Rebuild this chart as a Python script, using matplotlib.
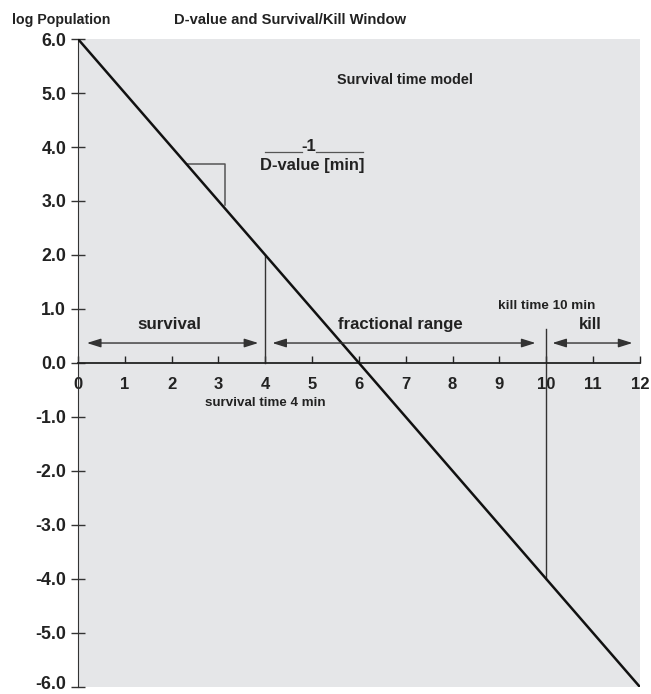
import numpy as np
import matplotlib.pyplot as plt
import matplotlib.transforms as mtransforms

plt.rcParams["font.family"] = ["Liberation Sans", "DejaVu Sans"]
plt.rcParams["font.weight"] = "bold"

# survival curve: log population vs time
time_min = [0, 12]
log_pop = [6.0, -6.0]

x_ticks = list(range(0, 13))
y_ticks = [6.0, 5.0, 4.0, 3.0, 2.0, 1.0, 0.0, -1.0, -2.0, -3.0, -4.0, -5.0, -6.0]

survival_time = 4
kill_time = 10

TXT = "#222222"

fig = plt.figure(figsize=(6.51, 6.94), dpi=100)
ax = fig.add_axes([0.1198, 0.0101, 0.8632, 0.9337])
ax.set_facecolor("#e5e6e8")
ax.set_xlim(0, 12)
ax.set_ylim(-6, 6)

ax.plot(time_min, log_pop, color="#111111", lw=1.8, solid_capstyle="butt", zorder=3)

# spines
for s in ["top", "right"]:
    ax.spines[s].set_visible(False)
ax.spines["bottom"].set_position(("data", 0))
ax.spines["left"].set_color("#333333")
ax.spines["bottom"].set_color("#222222")
ax.spines["bottom"].set_linewidth(1.3)

ax.set_xticks(x_ticks)
ax.set_xticklabels([str(t) for t in x_ticks], fontsize=12, fontweight="bold", color=TXT)
ax.set_yticks(y_ticks)
ax.set_yticklabels([f"{v:.1f}" for v in y_ticks], fontsize=12.8, fontweight="bold", color=TXT)
ax.tick_params(axis="x", direction="in", length=5, width=1, pad=10, color="#222222")
ax.tick_params(axis="y", direction="inout", length=10, width=1, pad=3.5, color="#333333")

# keep the bottom label inside the canvas
last = ax.get_yticklabels()[-1]
last.set_transform(last.get_transform() + mtransforms.ScaledTranslation(0, 3 / 72, fig.dpi_scale_trans))

# slope triangle
ax.plot([2.32, 3.14, 3.14], [3.68, 3.68, 2.93], color="#555555", lw=1.1)
ax.plot([4.0, 4.79], [3.9, 3.9], color="#555555", lw=0.9)
ax.plot([5.09, 6.08], [3.9, 3.9], color="#555555", lw=0.9)
ax.text(4.92, 3.87, "-1", ha="center", va="bottom", fontsize=12, fontweight="bold", color=TXT)
ax.text(5.01, 3.66, "D-value [min]", ha="center", va="center", fontsize=11.9, fontweight="bold", color=TXT)

# survival / kill markers
slope = (log_pop[1] - log_pop[0]) / (time_min[1] - time_min[0])
y_at_surv = log_pop[0] + slope * survival_time
y_at_kill = log_pop[0] + slope * kill_time
ax.plot([survival_time, survival_time], [0, y_at_surv], color="#333333", lw=1)
ax.plot([kill_time, kill_time], [y_at_kill, 0.63], color="#333333", lw=1)

arrow_kw = dict(arrowstyle="<|-|>,head_length=0.7,head_width=0.22", color="#333333", lw=1,
                mutation_scale=12, shrinkA=0, shrinkB=0)
ax.annotate("", xy=(3.85, 0.37), xytext=(0.19, 0.37), arrowprops=arrow_kw)
ax.annotate("", xy=(9.77, 0.37), xytext=(4.15, 0.37), arrowprops=arrow_kw)
ax.annotate("", xy=(11.84, 0.37), xytext=(10.13, 0.37), arrowprops=arrow_kw)

ax.text(1.95, 0.72, "survival", ha="center", va="center", fontsize=12.2, fontweight="bold", color=TXT)
ax.text(6.88, 0.72, "fractional range", ha="center", va="center", fontsize=12.1, fontweight="bold", color=TXT)
ax.text(10.94, 0.72, "kill", ha="center", va="center", fontsize=12.1, fontweight="bold", color=TXT)
ax.text(10.0, 1.06, "kill time 10 min", ha="center", va="center", fontsize=9.7, fontweight="bold", color=TXT)
ax.text(4.0, -0.74, "survival time 4 min", ha="center", va="center", fontsize=9.6, fontweight="bold", color=TXT)
ax.text(6.99, 5.24, "Survival time model", ha="center", va="center", fontsize=10.4, fontweight="bold", color=TXT)

fig.text(61 / 651, 1 - 20 / 694, "log Population", ha="center", va="center", fontsize=10.2, fontweight="bold", color=TXT)
fig.text(290 / 651, 1 - 20 / 694, "D-value and Survival/Kill Window", ha="center", va="center", fontsize=10.6, fontweight="bold", color=TXT)

fig.savefig("out.png", dpi=100)
